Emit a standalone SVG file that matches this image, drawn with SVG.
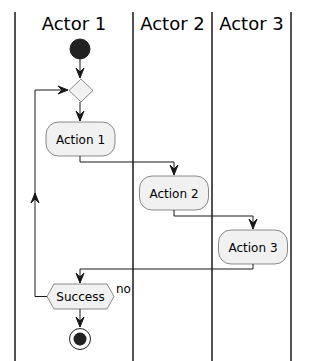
<svg xmlns="http://www.w3.org/2000/svg" width="310" height="361" viewBox="0 0 310 361">
<style>
.lane{stroke:#181818;stroke-width:1.5;fill:none}
.hdr{font-family:"DejaVu Sans",sans-serif;font-size:18px;fill:#000;text-anchor:middle}
.lbl{font-family:"DejaVu Sans",sans-serif;font-size:12px;fill:#000;text-anchor:middle}
.box{fill:#F1F1F1;stroke:#181818;stroke-width:0.5}
.ln{stroke:#181818;stroke-width:1;fill:none}
.ah{fill:#181818;stroke:#181818;stroke-width:1}
</style>
<rect width="310" height="361" fill="#FFFFFF"/>
<g id="lanes">
<line class="lane" x1="15" y1="12" x2="15" y2="361"/>
<line class="lane" x1="133" y1="12" x2="133" y2="361"/>
<line class="lane" x1="212" y1="12" x2="212" y2="361"/>
<line class="lane" x1="291" y1="12" x2="291" y2="361"/>
<text class="hdr" x="74" y="30">Actor 1</text>
<text class="hdr" x="172.5" y="30">Actor 2</text>
<text class="hdr" x="251.5" y="30">Actor 3</text>
</g>
<g id="connectors">
<line class="ln" x1="80" y1="59" x2="80" y2="78"/>
<polygon class="ah" points="76,68 80,78 84,68 80,72"/>
<line class="ln" x1="80" y1="102" x2="80" y2="121"/>
<polygon class="ah" points="76,111 80,121 84,111 80,115"/>
<polyline class="ln" points="80,156 80,162 174,162 174,175"/>
<polygon class="ah" points="170,165 174,175 178,165 174,169"/>
<polyline class="ln" points="174,210 174,216 253,216 253,229"/>
<polygon class="ah" points="249,219 253,229 257,219 253,223"/>
<polyline class="ln" points="253,264 253,269 80,269 80,283"/>
<polygon class="ah" points="76,273 80,283 84,273 80,277"/>
<polyline class="ln" points="47,296.5 35,296.5 35,90 68,90"/>
<polygon class="ah" points="58,86 68,90 58,94 62,90"/>
<polygon class="ah" points="31,203 35,193 39,203 35,199"/>
<line class="ln" x1="80" y1="309" x2="80" y2="327"/>
<polygon class="ah" points="76,317 80,327 84,317 80,321"/>
<text class="lbl" x="116" y="293" style="text-anchor:start">no</text>
</g>
<g id="start">
<circle cx="80" cy="49" r="10" fill="#222222" stroke="#222222" stroke-width="1"/>
</g>
<g id="merge">
<polygon class="box" points="81,79 93,90.5 81,102 69,90.5"/>
</g>
<g id="action1">
<rect class="box" x="46" y="122" width="69" height="34" rx="12.5" ry="12.5"/>
<text class="lbl" x="80.5" y="144">Action 1</text>
</g>
<g id="action2">
<rect class="box" x="139.5" y="176" width="69" height="34" rx="12.5" ry="12.5"/>
<text class="lbl" x="174" y="198">Action 2</text>
</g>
<g id="action3">
<rect class="box" x="218.5" y="230" width="69" height="34" rx="12.5" ry="12.5"/>
<text class="lbl" x="253" y="252">Action 3</text>
</g>
<g id="success">
<polygon class="box" points="47,296.5 54,284 107,284 114,296.5 107,309 54,309"/>
<text class="lbl" x="80.5" y="301">Success</text>
</g>
<g id="stop">
<circle cx="80" cy="339" r="10.5" fill="none" stroke="#222222" stroke-width="1"/>
<circle cx="80" cy="339" r="6.5" fill="#222222"/>
</g>
</svg>
